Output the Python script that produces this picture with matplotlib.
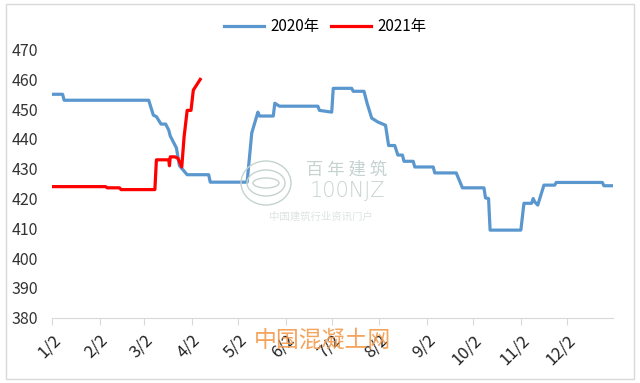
import matplotlib
matplotlib.use("Agg")
import matplotlib.pyplot as plt
import pandas as pd
from matplotlib.patches import Rectangle, Ellipse

plt.rcParams['font.family'] = ['Noto Sans CJK SC', 'DejaVu Sans']

# days counted from Jan 2 (2020 calendar), breakpoints
days_2020 = [0, 7, 8, 63, 66, 68, 71, 74, 76, 77, 81, 82, 83, 88, 102, 103, 127, 130, 134,
             135, 144, 145, 148, 173, 174, 182, 183, 195, 196, 203, 205, 208, 212, 217, 219,
             223, 225, 228, 229, 235, 236, 248, 249, 263, 267, 281, 282, 284, 285, 305, 307,
             312, 313, 314, 316, 320, 327, 328, 358, 359, 364]
price_2020 = [455, 455, 453, 453, 448, 447.5, 445, 445, 443, 441, 437, 434, 431, 428, 428, 425.5,
              425.5, 442, 449, 447.7, 447.7, 452, 451, 451, 449.6, 449, 457, 457, 456, 456, 452,
              447, 445.7, 444.6, 437.8, 437.8, 434.6, 434.6, 432.5, 432.5, 430.6, 430.6, 428.6,
              428.6, 423.6, 423.6, 420.2, 420, 409.4, 409.4, 418.4, 418.4, 420, 418.9, 417.8,
              424.5, 424.5, 425.4, 425.4, 424.3, 424.3]

days_2021 = [0, 35, 36, 44, 45, 67, 68, 76, 76.5, 77, 80, 82, 84.5, 86, 88, 90.5, 92, 96.5]
price_2021 = [424, 424, 423.6, 423.6, 423, 423, 433, 433, 431, 434, 434, 433.5, 430.6, 440.7,
              449.6, 449.6, 456.4, 460]

tick_labels = ['1/2', '2/2', '3/2', '4/2', '5/2', '6/2', '7/2', '8/2', '9/2', '10/2', '11/2', '12/2']

start = pd.Timestamp('2020-01-02')
tick_pos = [(pd.Timestamp('2020-' + t.split('/')[0] + '-' + t.split('/')[1]) - start).days
            for t in tick_labels]

fig = plt.figure(figsize=(6.4, 3.83), dpi=100)
ax = fig.add_axes([0.081, 0.1705, 0.877, 0.70])

blue = '#5b97cf'
red = '#ff0000'
ax.plot(days_2020, price_2020, color=blue, lw=2.3, label='2020年', solid_joinstyle='round')
ax.plot(days_2021, price_2021, color=red, lw=2.3, label='2021年', solid_joinstyle='round')

ax.set_xlim(0, 365)
ax.set_ylim(380, 470)
ax.set_yticks(range(380, 471, 10))
ax.set_xticks(tick_pos)
ax.set_xticklabels(tick_labels, rotation=45, ha='right', rotation_mode='anchor')

for s in ['top', 'right', 'left']:
    ax.spines[s].set_visible(False)
ax.spines['bottom'].set_color('#d9d9d9')
ax.tick_params(axis='y', length=0, pad=10, labelsize=11.5, labelcolor='#333333')
ax.tick_params(axis='x', length=5, color='#d9d9d9', pad=5, labelsize=12, labelcolor='#222222')

fig.legend(loc='center', bbox_to_anchor=(0.508, 0.93), ncol=2, frameon=False,
           fontsize=11, handlelength=2.6, columnspacing=0.8, handletextpad=0.4)

# watermarks
wm = '#c5d3d0'
fig.text(347 / 640, 1 - 170 / 383, '百 年 建 筑', color=wm, fontsize=12.5, ha='center', va='center')
fig.text(347 / 640, 1 - 191 / 383, '100NJZ', color=wm, fontsize=15, ha='center', va='center',
         fontfamily='DejaVu Sans', fontweight='light')
fig.text(321 / 640, 1 - 217 / 383, '中国建筑行业资讯门户', color='#dde4e2', fontsize=7.5,
         ha='center', va='center')
for w, h in [(50, 44), (38, 26), (26, 10)]:
    fig.patches.append(Ellipse((266 / 640, 1 - 183 / 383), w / 640, h / 383,
                               transform=fig.transFigure, fill=False, ec=wm, lw=1))
fig.text(322 / 640, 1 - 340 / 383, '中国混凝土网', color='#f29a4c', fontsize=16.5,
         ha='center', va='center', alpha=0.9)

fig.patches.append(Rectangle((5.5 / 640, 4 / 383), 628 / 640, 375 / 383,
                             transform=fig.transFigure, fill=False, ec='#d9d9d9', lw=1))

fig.savefig('out.png', dpi=100)
